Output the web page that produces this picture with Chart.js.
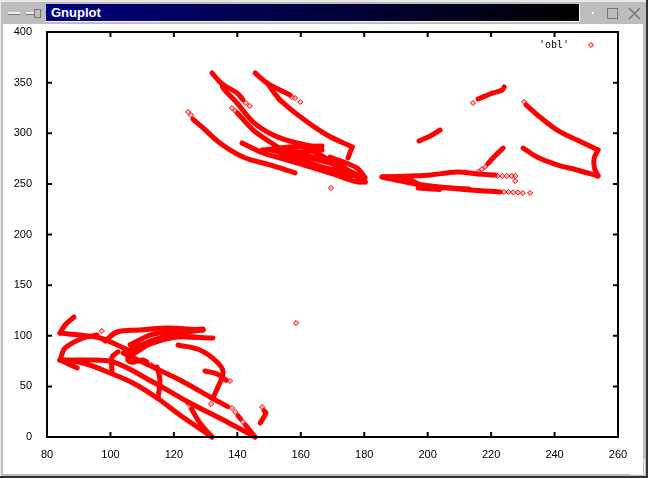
<!DOCTYPE html>
<html>
<head>
<meta charset="utf-8">
<title>Gnuplot</title>
<script src="https://cdn.jsdelivr.net/npm/chart.js@4/dist/chart.umd.min.js"></script>
<style>
  html, body { margin: 0; padding: 0; background: #bdbdbd; }
  #win { position: relative; width: 648px; height: 478px; overflow: hidden; background: #bdbdbd; }
  #edgeR { position: absolute; left: 646px; top: 0; width: 2px; height: 478px; background: #333; }
  #edgeB { position: absolute; left: 0; top: 476px; width: 648px; height: 2px; background: #333; }
  #edgeT { position: absolute; left: 0; top: 0; width: 646px; height: 2px; background: #e8e8e8; }
  #edgeL { position: absolute; left: 0; top: 0; width: 1px; height: 476px; background: #e8e8e8; }
  #title { position: absolute; left: 46px; top: 4px; width: 533px; height: 17px; border-right: 1px solid #fff; border-bottom: 1px solid #fff;
           background: linear-gradient(to right, #000080, #000000); color: #fff;
           font: bold 13px "Liberation Sans", sans-serif; line-height: 17px; text-indent: 5px; }
  #icons { position: absolute; left: 0; top: 0; }
  #plot { position: absolute; left: 3px; top: 24px; width: 640px; height: 450px; background: #fff; }
  canvas { position: absolute; left: 0; top: 0; }
</style>
</head>
<body>
<div id="win">
  <div id="edgeT"></div><div id="edgeL"></div><div id="edgeR"></div><div id="edgeB"></div>
  <div id="title">Gnuplot</div>
  <svg id="icons" width="648" height="24" shape-rendering="crispEdges">
    <rect x="8" y="12" width="12" height="2" fill="#eee"/><rect x="8" y="14" width="12" height="1" fill="#777"/>
    <rect x="26" y="12" width="8" height="2" fill="#eee"/><rect x="26" y="14" width="8" height="1" fill="#777"/>
    <rect x="34" y="9" width="6" height="8" fill="none" stroke="#777"/>
    <rect x="592" y="12" width="2" height="2" fill="#fff"/>
    <rect x="607.5" y="8.5" width="10" height="10" fill="none" stroke="#777"/>
    <path d="M629 8 L640 19 M640 8 L629 19" stroke="#777" stroke-width="1.5" fill="none" shape-rendering="auto"/>
  </svg>
  <div id="plot"></div>
  <canvas id="chart" width="648" height="478"></canvas>
  <svg id="corner" width="648" height="478" style="position:absolute;left:0;top:0" shape-rendering="crispEdges">
    <path d="M629.5 474.5 H644.5 V458.5" fill="none" stroke="#eee"/>
  </svg>
</div>
<script>
// x ticks / y ticks of the plot
const xTicks = [80, 100, 120, 140, 160, 180, 200, 220, 240, 260];
const yTicks = [0, 50, 100, 150, 200, 250, 300, 350, 400];
const seriesName = "'obl'";

// upper left cluster as [x, y]
const upperA = [[132,359.5],[135.2,348.7],[139.9,339.8],[141.8,333]];
const upperB = [[135.2,348.7],[135.5,344.7],[139.9,329.9],[145,311.1],[151.3,298.3],[157.6,291.4],[166.1,285.4]];
const upperC = [[140,320],[145,303.2],[150.3,291.4],[157.6,276.5],[165.1,266.7],[174.6,261.7],[180.3,251.9]];
const upperD = [[126,314],[129.2,305.2],[134.5,290.4],[141.8,276.5],[150.3,268.7],[158.2,260.8]];
const upperE = [[141.5,290.4],[148.1,280.5],[155.7,273.6],[162.9,266.7],[169.2,260.8],[177.7,251.9],[180.3,251.9]];
const upperF = [[145.6,359.5],[149.4,349.6],[156.6,337.8]];
const upperG = [[149.4,349.6],[153.5,332.9],[161.2,313.1],[168.3,298.3],[176.2,286.4]];
const upperH = [[176.2,286.4],[174.9,275.6]];
const coreA = [[147.8,283.5],[156.6,286.4],[166.7,287.4]];
const coreB = [[150.3,283.5],[159.8,281.5],[166.7,283.5]];
const coreC = [[153.5,281.5],[159.8,276.5],[167.7,273.6],[174,265.7]];
const coreD = [[155.7,283.5],[162.9,275.6],[170.8,268.7],[178.7,257.8]];
const coreE = [[155,275.6],[161.3,270.6],[169.2,263.7]];
const coreF = [[159.8,288.4],[166.1,278.5],[174,263.7]];
const coreG = [[169.2,276.5],[177.7,265.7],[180.3,255.9]];
const coreH = [[151,283],[158,276],[165,268.5],[176,258]];
const coreI = [[158,280],[166,275],[173,268]];

// upper right cluster
const rightA = [[215.9,333.8],[220.6,339.8],[223.5,342.7],[224.1,345.7]];
const rightB = [[197.3,292.4],[200.8,297.3],[203.9,303.2]];
const rightC = [[231,328],[235.4,316],[240.8,303.2],[247.1,293.3],[253.7,283.5]];
const rightD = [[253.7,283.5],[252.5,275.6],[252.5,266.7],[253.7,257.8]];
const rightE = [[253.7,257.8],[247.1,263.7],[240.8,268.7],[234.5,276.5],[230.1,285.4]];
const flatA = [[185.6,256.8],[194.5,257.8],[200.8,258.8],[209.3,261.7],[215.6,259.8],[221.3,258.8]];
const flatB = [[185.6,256.8],[194.5,250.9],[203.9,246.9],[213.4,244],[222.8,242]];
const flatC = [[197,246],[203.9,244.5]];
const flatD = [[219,270],[220.6,275.6],[223.8,285.4]];
const flatE = [[186,257],[194,254.5],[197,250]];
const flatF = [[197,248],[204,246.5],[213,245]];

// lower left cluster
const lowerA = [[88.5,118.5],[85.7,110.6],[84.1,102.7]];
const lowerA2 = [[84.1,102.7],[90.4,100.7],[96.7,97.8],[102.1,90.9],[105.5,85.9]];
const lowerB = [[98.3,94.8],[102.1,103.7],[109.3,105.7],[117.8,107.7],[129.2,105.7]];
const lowerC = [[105.5,76],[106.2,85.9],[112.5,93.8],[119.7,101.7],[129.2,105.7]];
const lowerD = [[106.2,84],[112.5,94.8],[119.7,98.8],[132.3,97.8]];
const lowerE = [[121.3,90.9],[128.2,85.9],[133.6,74.1],[135.5,64.2],[133.9,49.4],[132.2,38]];
const lowerF = [[129.8,65.2],[133.6,62.2],[136.5,56]];
const lowerG = [[89.5,68.2],[84.1,76]];
const lowerG2 = [[84.1,76],[85.7,87.9],[91.4,97.8],[95.8,100.7]];
const lowerH = [[84.1,76],[91.4,73.1],[99.9,63.2],[107.1,53.3],[114.7,38.5],[121.9,21.7],[132,0]];
const lowerI = [[84.1,76],[91.4,76],[100.8,74.1],[113.4,54.3],[125.1,33.6],[136.8,14.8],[145.6,0]];
const lowerJ = [[104,83],[113.4,69.1],[121.9,56.3],[131.4,39.5],[137,30]];
const lowerJ2 = [[140.2,21],[141,18]];
const lowerJ3 = [[142.5,12],[145.6,0]];
const lowerK = [[105.2,83],[106.2,74.1],[110.3,76],[111.5,74]];
const lowerL = [[100.5,63.2],[100.5,79],[102.4,84]];
const lowerM = [[115,38.5],[115.6,56.3],[114.7,69.1]];
const lowerN = [[125.5,28],[128.2,13.8],[132,0]];
const lowerO = [[148.4,26],[149,23.7],[147.2,13.8]];
const lowerP = [[106.2,91],[112.5,100.7],[119.7,104.7],[129.2,106.7]];
const lowerQ = [[106.8,81],[112.5,91.8],[120.4,98.8],[126.7,98.8]];

// lone points and the sparse ends of the tracks
const scattered = [[169.5,246],[158.5,112.6],[142.7,329.9],[143.9,326.9],[138.3,324.9],[139.3,322],
  [124.5,321],[125.4,318],[157.2,335.8],[158.2,334.8],[159.8,330.9],[153.2,332.9],
  [222,257.8],[223.5,257.8],[225,257.8],[226.5,257.8],[227.6,257.8],[227.6,252.8],
  [224,242],[225.5,242],[227,241.5],[228.5,241.5],[230,241],[232.3,241],
  [214.3,329.9],[230.4,330.9],[216,262],[217.1,264.5],[218.1,266.7],[97.3,104.7],[113.1,71.1],[131.7,32.6],
  [138.3,28.6],[139.3,24.7],[141.8,14.8],[124.5,32.6],[137.7,55.3],[147.8,29.6]];

const tracks = [upperA, upperB, upperC, upperD, upperE, upperF, upperG, upperH,
  coreA, coreB, coreC, coreD, coreE, coreF, coreG, coreH, coreI,
  rightA, rightB, rightC, rightD, rightE, flatA, flatB, flatC, flatD, flatE, flatF,
  lowerA, lowerA2, lowerB, lowerC, lowerD, lowerE, lowerF, lowerG, lowerG2, lowerH, lowerI,
  lowerJ, lowerJ2, lowerJ3, lowerK, lowerL, lowerM, lowerN, lowerO, lowerP, lowerQ];

const toXY = pts => pts.map(p => ({ x: p[0], y: p[1] }));
const red = '#ff0000';

const datasets = [{
  label: seriesName, data: toXY(scattered), showLine: false, pointStyle: 'rectRot',
  pointRadius: 2.6, pointBorderColor: red, pointBorderWidth: 1, pointBackgroundColor: 'rgba(255,0,0,0.25)', clip: false
}];
tracks.forEach(t => datasets.push({
  label: seriesName, data: toXY(t), showLine: true, borderColor: red, borderWidth: 5,
  borderCapStyle: 'round', borderJoinStyle: 'round', tension: 0.35, pointRadius: 0, clip: false
}));

// gnuplot box: black frame with inward ticks on all four sides, plus the key
const gnuplotBox = {
  id: 'gnuplotBox',
  afterDatasetsDraw(chart) {
    const { ctx, chartArea: a, scales } = chart;
    ctx.save();
    ctx.strokeStyle = '#000';
    ctx.lineWidth = 2;
    ctx.strokeRect(a.left, a.top, a.right - a.left, a.bottom - a.top);
    ctx.beginPath();
    xTicks.forEach(v => {
      const x = scales.x.getPixelForValue(v);
      ctx.moveTo(x, a.bottom); ctx.lineTo(x, a.bottom - 5);
      ctx.moveTo(x, a.top); ctx.lineTo(x, a.top + 5);
    });
    yTicks.forEach(v => {
      const y = scales.y.getPixelForValue(v);
      ctx.moveTo(a.left, y); ctx.lineTo(a.left + 5, y);
      ctx.moveTo(a.right, y); ctx.lineTo(a.right - 5, y);
    });
    ctx.stroke();
    // key
    ctx.fillStyle = '#000';
    ctx.font = '10px "DejaVu Sans Mono", monospace';
    ctx.textAlign = 'right';
    ctx.textBaseline = 'middle';
    ctx.fillText(seriesName, 569, 45);
    ctx.strokeStyle = red;
    ctx.lineWidth = 1;
    ctx.fillStyle = 'rgba(255,0,0,0.25)';
    ctx.beginPath();
    ctx.moveTo(591, 42.4); ctx.lineTo(593.6, 45); ctx.lineTo(591, 47.6); ctx.lineTo(588.4, 45); ctx.closePath();
    ctx.fill(); ctx.stroke();
    ctx.restore();
  }
};

new Chart(document.getElementById('chart').getContext('2d'), {
  type: 'scatter',
  data: { datasets },
  plugins: [gnuplotBox],
  options: {
    responsive: false,
    animation: false,
    devicePixelRatio: 1,
    layout: { padding: { top: 32, right: 30, left: 0, bottom: 0 } },
    plugins: { legend: { display: false }, tooltip: { enabled: false } },
    scales: {
      x: {
        type: 'linear', min: 80, max: 260,
        afterBuildTicks: s => { s.ticks = xTicks.map(v => ({ value: v })); },
        afterFit: s => { s.height = 41; },
        grid: { display: false }, border: { display: false },
        ticks: { color: '#000', padding: 3, maxRotation: 0, font: { family: '"Liberation Sans", sans-serif', size: 11 } }
      },
      y: {
        type: 'linear', min: 0, max: 400,
        afterBuildTicks: s => { s.ticks = yTicks.map(v => ({ value: v })); },
        afterFit: s => { s.width = 47; },
        grid: { display: false }, border: { display: false },
        ticks: { color: '#000', padding: 7, font: { family: '"Liberation Sans", sans-serif', size: 11 } }
      }
    }
  }
});
</script>
</body>
</html>
